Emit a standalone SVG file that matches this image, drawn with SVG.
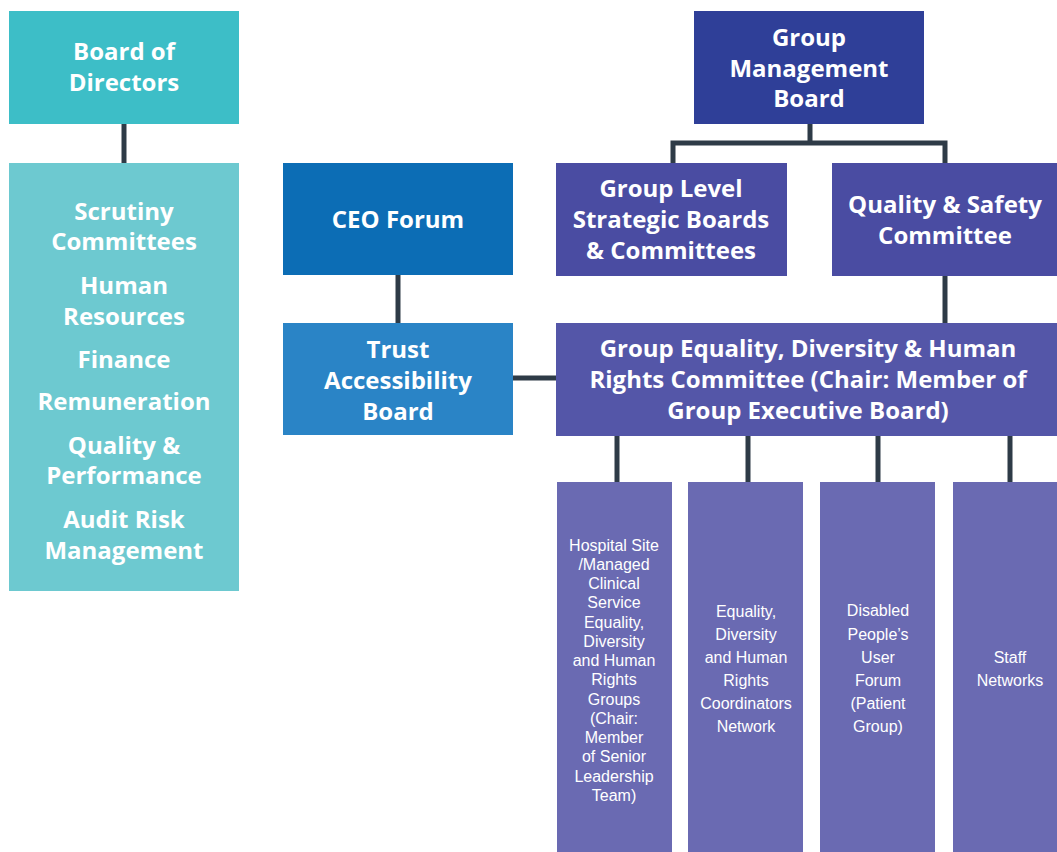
<svg xmlns="http://www.w3.org/2000/svg" width="1057" height="852" viewBox="0 0 1057 852">
<style>
.b{font-family:"Open Sans","Liberation Sans",sans-serif;font-weight:bold;font-size:24px;fill:#fff;text-anchor:middle}
.s{font-family:"Liberation Sans",Arial,sans-serif;font-size:16px;fill:#fff;text-anchor:middle}
.c{stroke:#2E3B47;stroke-width:5;fill:none}
</style>
<rect width="1057" height="852" fill="#fff"/>
<g id="connectors">
<path class="c" d="M124 124V163"/>
<path class="c" d="M398 275V323"/>
<path class="c" d="M513 378H557"/>
<path class="c" d="M810 124V143M673 163V143H945V163"/>
<path class="c" d="M945 276V323"/>
<path class="c" d="M617 436V482M748 436V482M878 436V482M1010 436V482"/>
</g>
<g id="board">
<rect x="9" y="11" width="230" height="113" fill="#3DBEC7"/>
<text class="b" x="124"><tspan x="124" y="60">Board of</tspan><tspan x="124" y="91">Directors</tspan></text>
</g>
<g id="scrutiny">
<rect x="9" y="163" width="230" height="428" fill="#6DC9D0"/>
<text class="b"><tspan x="124" y="220">Scrutiny</tspan><tspan x="124" y="250">Committees</tspan><tspan x="124" y="294">Human</tspan><tspan x="124" y="325">Resources</tspan><tspan x="124" y="368">Finance</tspan><tspan x="124" y="410">Remuneration</tspan><tspan x="124" y="454">Quality &amp;</tspan><tspan x="124" y="484">Performance</tspan><tspan x="124" y="528">Audit Risk</tspan><tspan x="124" y="559">Management</tspan></text>
</g>
<g id="ceo">
<rect x="283" y="163" width="230" height="112" fill="#0C6DB5"/>
<text class="b" x="398" y="228">CEO Forum</text>
</g>
<g id="trust">
<rect x="283" y="323" width="230" height="112" fill="#2A84C6"/>
<text class="b"><tspan x="398" y="358">Trust</tspan><tspan x="398" y="389">Accessibility</tspan><tspan x="398" y="420">Board</tspan></text>
</g>
<g id="gmb">
<rect x="694" y="11" width="230" height="113" fill="#2F3F98"/>
<text class="b"><tspan x="809" y="46">Group</tspan><tspan x="809" y="77">Management</tspan><tspan x="809" y="107">Board</tspan></text>
</g>
<g id="strategic">
<rect x="556" y="163" width="231" height="113" fill="#4A4CA2"/>
<text class="b"><tspan x="671" y="197">Group Level</tspan><tspan x="671" y="228">Strategic Boards</tspan><tspan x="671" y="259">&amp; Committees</tspan></text>
</g>
<g id="quality">
<rect x="832" y="163" width="225" height="113" fill="#4A4CA2"/>
<text class="b"><tspan x="945" y="213">Quality &amp; Safety</tspan><tspan x="945" y="244">Committee</tspan></text>
</g>
<g id="gedhr">
<rect x="556" y="323" width="501" height="113" fill="#5456A8"/>
<text class="b"><tspan x="808" y="357">Group Equality, Diversity &amp; Human</tspan><tspan x="808" y="388">Rights Committee (Chair: Member of</tspan><tspan x="808" y="419">Group Executive Board)</tspan></text>
</g>
<g id="hospital">
<rect x="557" y="482" width="115" height="370" fill="#6A6AB2"/>
<text class="s"><tspan x="614" y="551">Hospital Site</tspan><tspan x="614" y="570">/Managed</tspan><tspan x="614" y="589">Clinical</tspan><tspan x="614" y="608">Service</tspan><tspan x="614" y="628">Equality,</tspan><tspan x="614" y="647">Diversity</tspan><tspan x="614" y="666">and Human</tspan><tspan x="614" y="685">Rights</tspan><tspan x="614" y="705">Groups</tspan><tspan x="614" y="724">(Chair:</tspan><tspan x="614" y="743">Member</tspan><tspan x="614" y="762">of Senior</tspan><tspan x="614" y="782">Leadership</tspan><tspan x="614" y="801">Team)</tspan></text>
</g>
<g id="coordinators">
<rect x="688" y="482" width="115" height="370" fill="#6A6AB2"/>
<text class="s"><tspan x="746" y="617">Equality,</tspan><tspan x="746" y="640">Diversity</tspan><tspan x="746" y="663">and Human</tspan><tspan x="746" y="686">Rights</tspan><tspan x="746" y="709">Coordinators</tspan><tspan x="746" y="732">Network</tspan></text>
</g>
<g id="disabled">
<rect x="820" y="482" width="115" height="370" fill="#6A6AB2"/>
<text class="s"><tspan x="878" y="616">Disabled</tspan><tspan x="878" y="640">People’s</tspan><tspan x="878" y="663">User</tspan><tspan x="878" y="686">Forum</tspan><tspan x="878" y="709">(Patient</tspan><tspan x="878" y="732">Group)</tspan></text>
</g>
<g id="staff">
<rect x="953" y="482" width="104" height="370" fill="#6A6AB2"/>
<text class="s"><tspan x="1010" y="663">Staff</tspan><tspan x="1010" y="686">Networks</tspan></text>
</g>
</svg>
